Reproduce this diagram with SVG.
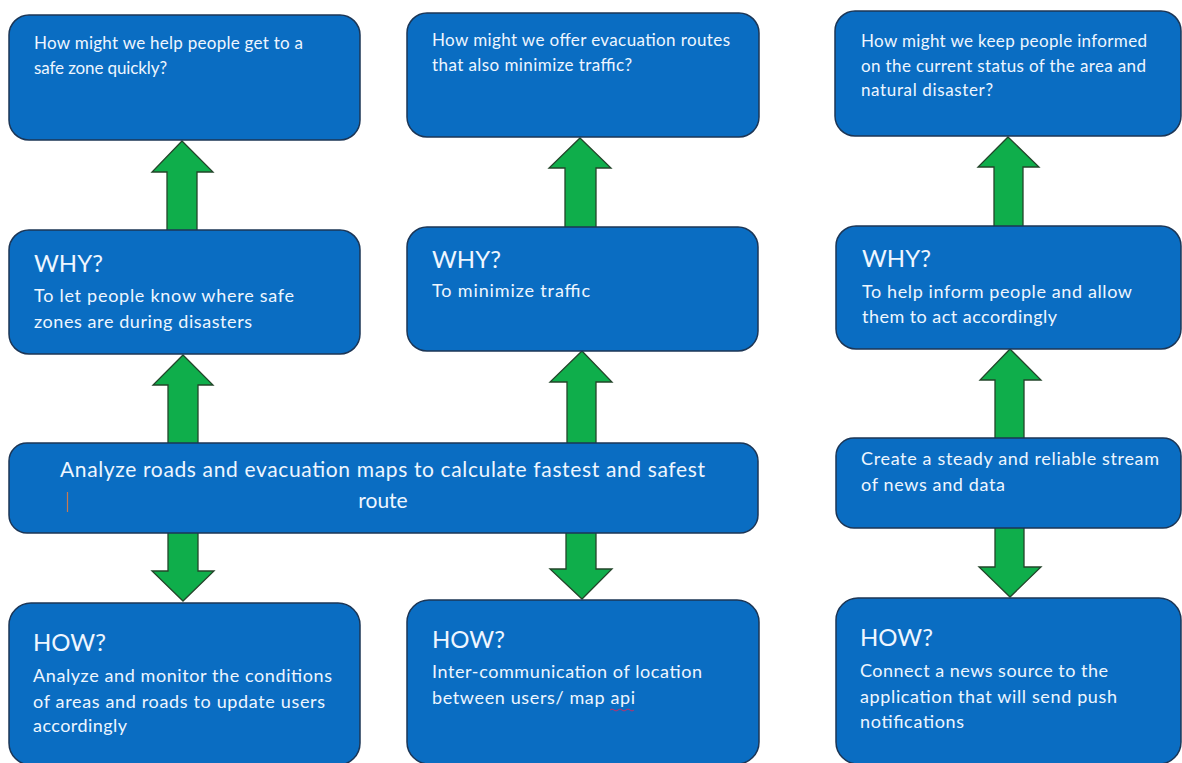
<svg xmlns="http://www.w3.org/2000/svg" width="1182" height="763" viewBox="0 0 1182 763">
<style>
.box{fill:#0a6dc2;stroke:#1c3656;stroke-width:1.5}
.arr{fill:#0fae4b;stroke:#23452a;stroke-width:1.3;stroke-linejoin:miter}
text{font-family:Lato,"Open Sans","Liberation Sans",sans-serif;fill:#eef6ff}
.q{font-size:17px}
.h{font-size:24px}
.b{font-size:18px}
.m{font-size:21px}
</style>
<rect width="1182" height="763" fill="#ffffff"/>
<g id="connectors">
<polygon class="arr" points="182,141 213,172 197,172 197,231 167,231 167,172 152,172"/>
<polygon class="arr" points="183,355 213,385 198,385 198,444 168,444 168,385 153,385"/>
<polygon class="arr" points="580,138 611,168 596,168 596,228 565,228 565,168 549,168"/>
<polygon class="arr" points="582,351 612,382 596,382 596,444 567,444 567,382 550,382"/>
<polygon class="arr" points="1008,137 1039,167 1023,167 1023,227 994,227 994,167 978,167"/>
<polygon class="arr" points="1010,349 1041,380 1024,380 1024,439 995,439 995,380 980,380"/>
<polygon class="arr" points="168,532 198,532 198,571 214,571 183,601 152,571 168,571"/>
<polygon class="arr" points="566,532 596,532 596,569 612,569 582,599 550,569 566,569"/>
<polygon class="arr" points="995,527 1024,527 1024,567 1041,567 1010,597 979,567 995,567"/>
</g>
<g id="q1">
<rect class="box" x="9" y="15" width="351" height="125" rx="20"/>
<text class="q" x="34" y="49" textLength="269">How might we help people get to a</text>
<text class="q" x="34" y="74" textLength="133">safe zone quickly?</text>
</g>
<g id="q2">
<rect class="box" x="407" y="13" width="352" height="124" rx="20"/>
<text class="q" x="432" y="46" textLength="298">How might we offer evacuation routes</text>
<text class="q" x="432" y="71" textLength="200">that also minimize traffic?</text>
</g>
<g id="q3">
<rect class="box" x="835" y="11" width="346" height="125" rx="20"/>
<text class="q" x="861" y="47" textLength="286">How might we keep people informed</text>
<text class="q" x="861" y="72" textLength="285">on the current status of the area and</text>
<text class="q" x="861" y="96" textLength="132">natural disaster?</text>
</g>
<g id="why1">
<rect class="box" x="9" y="230" width="351" height="124" rx="20"/>
<text class="h" x="34" y="272">WHY?</text>
<text class="b" x="34" y="302" textLength="260">To let people know where safe</text>
<text class="b" x="34" y="328" textLength="218">zones are during disasters</text>
</g>
<g id="why2">
<rect class="box" x="407" y="227" width="351" height="124" rx="20"/>
<text class="h" x="432" y="268">WHY?</text>
<text class="b" x="432" y="297" textLength="158">To minimize traffic</text>
</g>
<g id="why3">
<rect class="box" x="836" y="226" width="345" height="123" rx="20"/>
<text class="h" x="862" y="267">WHY?</text>
<text class="b" x="862" y="298" textLength="270">To help inform people and allow</text>
<text class="b" x="862" y="323" textLength="195">them to act accordingly</text>
</g>
<g id="main">
<rect class="box" x="9" y="443" width="749" height="90" rx="18"/>
<text class="m" x="60" y="477" textLength="645">Analyze roads and evacuation  maps to calculate fastest and safest</text>
<text class="m" x="383" y="508" text-anchor="middle">route</text>
<line x1="67.5" y1="492" x2="67.5" y2="512" stroke="#c87a50" stroke-width="1.2"/>
</g>
<g id="create">
<rect class="box" x="836" y="438" width="345" height="90" rx="18"/>
<text class="b" x="861" y="465" textLength="298">Create a steady and reliable stream</text>
<text class="b" x="861" y="491" textLength="144">of news and data</text>
</g>
<g id="how1">
<rect class="box" x="9" y="603" width="351" height="162" rx="22"/>
<text class="h" x="33" y="651">HOW?</text>
<text class="b" x="33" y="682" textLength="299">Analyze and monitor the conditions</text>
<text class="b" x="33" y="708" textLength="292">of areas and roads to update users</text>
<text class="b" x="33" y="732" textLength="94">accordingly</text>
</g>
<g id="how2">
<rect class="box" x="407" y="600" width="352" height="164" rx="22"/>
<text class="h" x="432" y="648">HOW?</text>
<text class="b" x="432" y="678" textLength="270">Inter-communication of location</text>
<text class="b" x="432" y="704" textLength="203">between users/ map api</text>
<path d="M610,710 q2,-2 4,0 t4,0 t4,0 t4,0 t4,0 t4,0" fill="none" stroke="#c0306a" stroke-width="1"/>
</g>
<g id="how3">
<rect class="box" x="836" y="598" width="345" height="166" rx="22"/>
<text class="h" x="860" y="646">HOW?</text>
<text class="b" x="860" y="677" textLength="248">Connect a news source to the</text>
<text class="b" x="860" y="703" textLength="257">application that will send push</text>
<text class="b" x="860" y="728" textLength="104">notifications</text>
</g>
</svg>
